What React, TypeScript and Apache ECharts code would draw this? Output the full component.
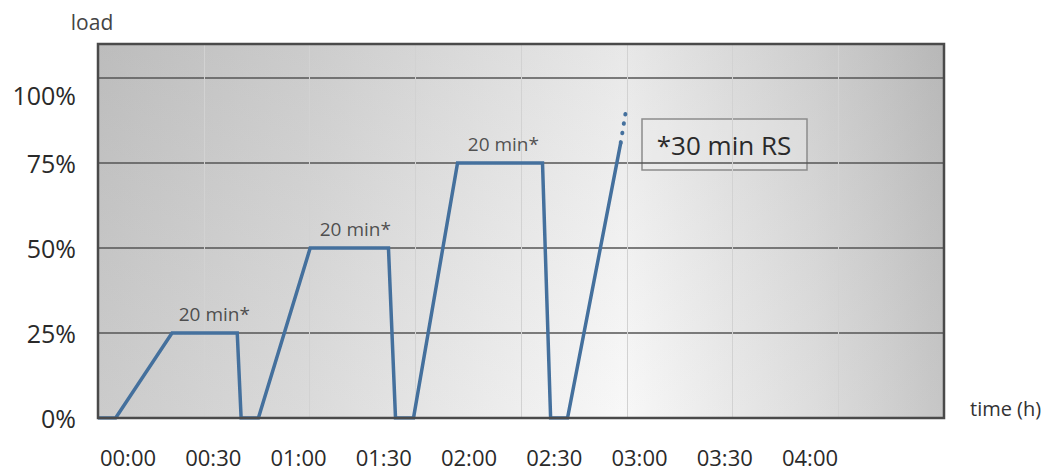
import React, { useEffect, useRef } from "react";
import * as echarts from "echarts";

// load profile (time in minutes, load in %)
const timeMin = [0, 5, 21, 39.5, 40.6, 45.5, 60.2, 82.4, 84.4, 89.5, 102, 126.1, 128.4, 133.2, 148.3];
const loadPct = [0, 0, 25, 25, 0, 0, 50, 50, 0, 0, 75, 75, 0, 0, 81];
// dotted continuation
const extTime = [148.3, 149.7];
const extLoad = [81, 90];
// hold annotations
const annotTime = [33, 73, 115];
const annotLoad = [25, 50, 75];
const annotText = ["20 min*", "20 min*", "20 min*"];
const noteText = "*30 min RS";
const yTicks = [0, 25, 50, 75, 100];

const FONT = "'Open Sans', 'DejaVu Sans', sans-serif";

const fmtTime = (v: number) =>
  `${String(Math.floor(v / 60)).padStart(2, "0")}:${String(Math.round(v % 60)).padStart(2, "0")}`;

export default function App() {
  const ref = useRef<HTMLDivElement>(null);
  useEffect(() => {
    if (!ref.current) return;
    const chart = echarts.init(ref.current, undefined, { renderer: "svg" });
    const mainData = timeMin.map((t, i) => [t, loadPct[i]]);
    const extData = extTime.map((t, i) => [t, extLoad[i]]);
    const annData = annotTime.map((t, i) => ({ value: [t, annotLoad[i]], name: annotText[i] }));
    chart.setOption({
      animation: false,
      backgroundColor: "#ffffff",
      textStyle: { fontFamily: FONT },
      grid: [
        {
          left: 98,
          top: 44,
          right: 103,
          bottom: 55,
          show: true,
          borderWidth: 0,
          backgroundColor: new echarts.graphic.LinearGradient(0, 0, 1, 0, [
            { offset: 0, color: "#c4c4c4" },
            { offset: 0.25, color: "#d6d6d6" },
            { offset: 0.62, color: "#f7f7f7" },
            { offset: 0.85, color: "#d8d8d8" },
            { offset: 1, color: "#bebebe" },
          ]),
        },
        { left: 128, right: 237, top: 428, height: 10 },
      ],
      graphic: [
        {
          type: "rect",
          shape: { x: 98, y: 44, width: 846, height: 374 },
          z: 0,
          silent: true,
          style: {
            fill: new echarts.graphic.LinearGradient(0, 0, 0, 1, [
              { offset: 0, color: "rgba(140,140,140,0.14)" },
              { offset: 1, color: "rgba(255,255,255,0.12)" },
            ]),
          },
        },
        {
          type: "rect",
          shape: { x: 98, y: 44, width: 846, height: 374 },
          z: 5,
          silent: true,
          style: { fill: "none", stroke: "#4a4a4a", lineWidth: 2.5 },
        },
        {
          type: "group",
          z: 6,
          children: [
            {
              type: "rect",
              shape: { x: 642, y: 119, width: 165, height: 51 },
              style: { fill: "rgba(238,238,238,0.35)", stroke: "#8c8c8c", lineWidth: 1.5 },
            },
            {
              type: "text",
              x: 724,
              y: 145,
              style: {
                text: noteText,
                fill: "#2a2a2a",
                font: `26px ${FONT}`,
                align: "center",
                verticalAlign: "middle",
              },
            },
          ],
        },
      ],
      xAxis: [
        {
          type: "value",
          gridIndex: 0,
          min: 0,
          max: 240,
          interval: 30,
          name: "time (h)",
          nameLocation: "end",
          nameGap: 26,
          nameTextStyle: { fontSize: 20, color: "#333", align: "left", verticalAlign: "bottom" },
          axisLine: { show: false },
          axisTick: { show: false },
          axisLabel: { show: false },
          splitLine: { show: true, lineStyle: { color: "#d2d2d2", width: 1 } },
        },
        {
          type: "value",
          gridIndex: 1,
          min: 0,
          max: 240,
          interval: 30,
          axisLine: { show: false },
          axisTick: { show: false },
          splitLine: { show: false },
          axisLabel: { show: true, fontSize: 22, color: "#2a2a2a", margin: 8, formatter: fmtTime, showMinLabel: true, showMaxLabel: true },
        },
      ],
      yAxis: [
        {
          type: "value",
          gridIndex: 0,
          min: 0,
          max: 110,
          interval: 25,
          name: "load",
          nameLocation: "end",
          nameGap: 12,
          nameTextStyle: { fontSize: 21, color: "#444", align: "center", padding: [0, 12, 0, 0] },
          axisLine: { show: false },
          axisTick: { show: false },
          axisLabel: {
            fontSize: 25,
            color: "#2a2a2a",
            margin: 22,
            customValues: yTicks,
            formatter: (v: number) => (v === 100 ? "{low|100%}" : `${v}%`),
            rich: { low: { fontSize: 25, color: "#2a2a2a", padding: [34, 0, 0, 0], fontFamily: FONT } },
          },
          splitLine: { show: true, lineStyle: { color: "#555555", width: 1.5 } },
        },
        { type: "value", gridIndex: 1, show: false, min: 0, max: 1 },
      ],
      series: [
        {
          type: "line",
          name: "load",
          xAxisIndex: 0,
          yAxisIndex: 0,
          data: mainData,
          showSymbol: false,
          symbol: "none",
          z: 3,
          lineStyle: { color: "#44709d", width: 3.5, join: "miter" },
        },
        {
          type: "line",
          name: "continuation",
          xAxisIndex: 0,
          yAxisIndex: 0,
          data: extData,
          symbol: "none",
          z: 3,
          lineStyle: { color: "#44709d", width: 4, type: [0.5, 9], cap: "round" },
        },
        {
          type: "scatter",
          name: "annotations",
          xAxisIndex: 0,
          yAxisIndex: 0,
          data: annData,
          symbolSize: 0,
          z: 4,
          label: {
            show: true,
            position: "top",
            distance: 10,
            formatter: (p: any) => p.name,
            fontSize: 19,
            color: "#2a2a2a",
          },
        },
      ],
    });
    return () => chart.dispose();
  }, []);
  return <div ref={ref} style={{ position: "absolute", left: 0, top: 0, width: 1047, height: 473 }} />;
}
